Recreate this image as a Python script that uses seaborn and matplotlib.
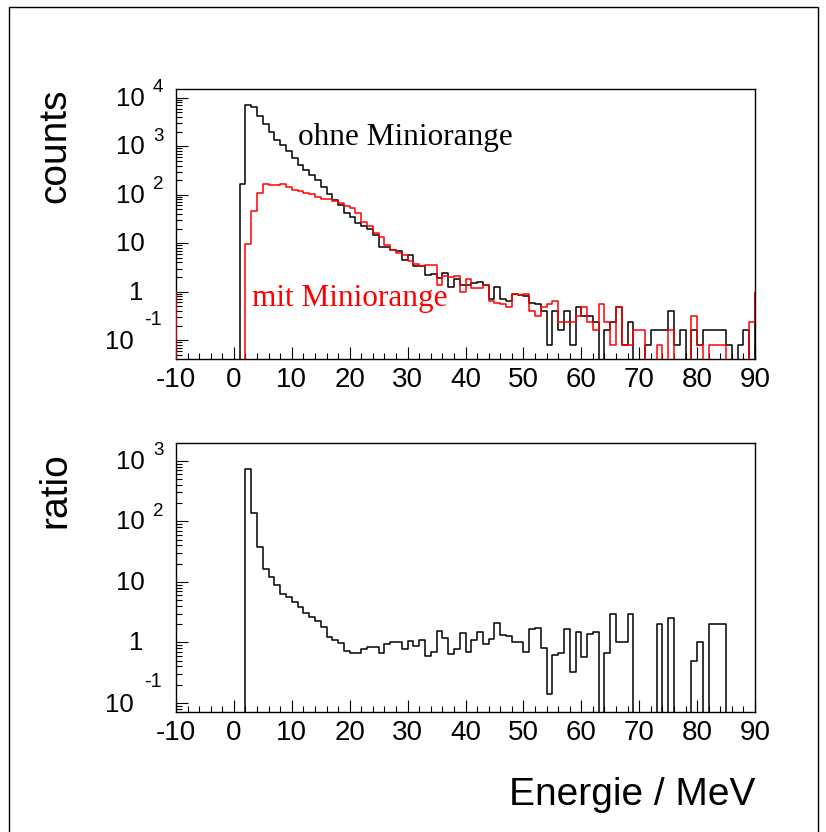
import numpy as np
import pandas as pd
import matplotlib
matplotlib.use("Agg")
import matplotlib.pyplot as plt
import seaborn as sns
from matplotlib.transforms import offset_copy
from matplotlib.ticker import FixedLocator, NullFormatter
from matplotlib.patches import Rectangle

# ---------------- data (1 MeV bins from -10 to 90 MeV) ----------------
bin_edges = list(range(-10, 91))

ohne = [0] * 11 + [
    170, 7200, 6500, 4200, 2940, 1990, 1370, 1050, 800,          # 1..9
    560, 420, 330, 250, 200, 145, 105, 77, 60, 42,               # 10..19
    34, 26, 23, 20, 15, 8.4, 8.4, 7.4, 6.9, 4.5,                 # 20..29
    5.6, 3.4, 3.4, 2.2, 2.3, 1.9, 2.4, 1.26, 1.8, 1.4,           # 30..39
    1.36, 1.52, 1.6, 1.36, 0.70, 1.22, 0.69, 0.64, 0.91, 0.85,   # 40..49
    0.81, 0.57, 0.56, 0.40, 0.08, 0.40, 0.16, 0.40, 0.08, 0.48,  # 50..59
    0.32, 0.32, 0.24, 0, 0.16, 0.24, 0.48, 0.08, 0.24, 0,        # 60..69
    0, 0.08, 0.16, 0.16, 0.16, 0.40, 0.08, 0.16, 0, 0.16,        # 70..79
    0.08, 0.16, 0.16, 0.16, 0.16, 0.08, 0, 0.08, 0.16, 0,        # 80..89
]

mit = [0] * 12 + [
    9.5, 47, 110, 166, 160, 160, 163, 145,                       # 2..9
    128, 120, 106, 102, 90, 83, 83, 75, 68, 58,                  # 10..19
    52, 42, 28, 23, 16, 13.2, 9.1, 7.2, 6.2, 5.6,                # 20..29
    4.2, 3.8, 3.4, 3.6, 3.5, 1.4, 2.1, 2.0, 2.1, 1.0,            # 30..39
    1.8, 1.2, 1.2, 1.4, 0.64, 0.59, 0.55, 0.48, 0.91, 0.85,      # 40..49
    0.9, 0.40, 0.31, 0.48, 0.56, 0.65, 0.24, 0.24, 0.24, 0.32,   # 50..59
    0.48, 0.24, 0.16, 0.56, 0.24, 0.08, 0.48, 0.08, 0.08, 0.16,  # 60..69
    0.16, 0, 0, 0.08, 0, 0.16, 0, 0, 0, 0.32,                    # 70..79
    0.08, 0, 0.08, 0.08, 0.08, 0, 0, 0, 0, 0.24,                 # 80..89
]

ratio = [0] * 12 + [
    745, 138, 37, 16.2, 12.1, 8.8, 6.4, 5.7,                     # 2..9
    4.7, 3.9, 3.1, 2.6, 2.3, 1.77, 1.24, 1.1, 0.96, 0.73,        # 10..19
    0.68, 0.66, 0.77, 0.83, 0.85, 0.66, 0.93, 1.0, 1.0, 0.77,    # 20..29
    1.06, 0.87, 1.1, 0.59, 0.70, 1.54, 1.19, 0.65, 0.79, 1.44,   # 30..39
    0.70, 1.09, 1.50, 0.94, 1.12, 2.11, 1.35, 1.29, 1.0, 1.0,    # 40..49
    0.70, 1.64, 1.75, 0.80, 0.14, 0.62, 0.68, 1.64, 0.33, 1.50,  # 50..59
    0.58, 1.37, 1.46, 0, 0.66, 3.0, 1.0, 1.0, 3.0, 0,            # 60..69
    0, 0, 0, 2.0, 0, 2.5, 0, 0, 0, 0.5,                          # 70..79
    1.0, 0, 2.0, 2.0, 2.0, 0, 0, 0, 0, 0,                        # 80..89
]

x_ticks = [-10, 0, 10, 20, 30, 40, 50, 60, 70, 80, 90]
top_decades = [1e-1, 1, 10, 1e2, 1e3, 1e4]
bottom_decades = [1e-1, 1, 10, 1e2, 1e3]
label_ohne = "ohne Miniorange"
label_mit = "mit Miniorange"

# ---------------- style ----------------
sns.set_theme(style="white")
plt.rcParams['font.family'] = ['Liberation Sans', 'DejaVu Sans']
plt.rcParams['axes.unicode_minus'] = False

W, H = 826, 832
fig = plt.figure(figsize=(W / 100, H / 100), dpi=100)
fig.patch.set_facecolor("white")


def axes_px(l, t, r, b):
    return fig.add_axes([l / W, 1 - b / H, (r - l) / W, (b - t) / H])


ax1 = axes_px(176, 89.3, 755, 359)
ax2 = axes_px(176, 443.3, 755, 712)

edges = np.array(bin_edges, dtype=float)
centers = 0.5 * (edges[:-1] + edges[1:])
df = pd.DataFrame({"E": centers, "ohne": ohne, "mit": mit, "ratio": ratio})

BASE = 1.0  # ROOT draws the outline from this baseline at the histogram ends
LW = 1.1

for ax in (ax1, ax2):
    ax.set_yscale("log")

sns.histplot(data=df, x="E", weights="ohne", bins=list(bin_edges), element="step",
             fill=False, color="black", linewidth=LW, ax=ax1, zorder=3)
sns.histplot(data=df, x="E", weights="mit", bins=list(bin_edges), element="step",
             fill=False, color="#ff0000", linewidth=LW, ax=ax1, zorder=4)
sns.histplot(data=df, x="E", weights="ratio", bins=list(bin_edges), element="step",
             fill=False, color="black", linewidth=LW, ax=ax2, zorder=3)

# end segments of the outlines (from first/last bin content to baseline)
for col, c, z in (("ohne", "black", 3), ("mit", "#ff0000", 4)):
    vals = df[col].to_numpy()
    ax1.vlines([edges[0], edges[-1]], [max(vals[0], 1e-6), max(vals[-1], 1e-6)],
               BASE, colors=c, linewidth=LW, zorder=z)

ax1.set_ylim(10 ** -1.39, 10 ** 4.175)
ax2.set_ylim(10 ** -1.15, 10 ** 3.29)

for ax, decades in ((ax1, top_decades), (ax2, bottom_decades)):
    ax.set_xlim(x_ticks[0], x_ticks[-1])
    ax.set_xlabel("")
    ax.set_ylabel("")
    ax.set_xticks(x_ticks, labels=[str(t) for t in x_ticks])
    ax.xaxis.set_minor_locator(FixedLocator(np.arange(x_ticks[0], x_ticks[-1] + 0.1, 2)))
    ax.yaxis.set_major_locator(FixedLocator(decades))
    minors = [d * k for d in decades + [decades[-1] * 10, decades[0] / 10]
              for k in range(2, 10)]
    ax.yaxis.set_minor_locator(FixedLocator(minors))
    ax.yaxis.set_major_formatter(NullFormatter())
    ax.yaxis.set_minor_formatter(NullFormatter())
    ax.tick_params(which="both", direction="in", top=False, right=False,
                   left=True, bottom=True, color="black", width=0.8)
    ax.tick_params(which="major", length=8.6)
    ax.tick_params(which="minor", length=4.3)
    ax.tick_params(axis="x", which="major", labelsize=20, pad=6.0, labelcolor="black")
    for s in ax.spines.values():
        s.set_visible(True)
        s.set_color("black")
        s.set_linewidth(1.0)
    ax.set_facecolor("white")
    ax.grid(False)

    base_tr = ax.get_yaxis_transform()

    def put(x_dx, y_dy, yv, txt, ha, size, ax=ax, base_tr=base_tr):
        tr = offset_copy(base_tr, fig=fig, x=x_dx, y=y_dy, units="dots")
        ax.text(0, yv, txt, transform=tr, ha=ha, va="center", fontsize=size,
                color="black")

    for v in decades:
        e = int(round(np.log10(v)))
        if e == 0:
            put(-33, -1, v, "1", "right", 18.5)
        elif e == 1:
            put(-31, -1, v, "10", "right", 18.5)
        elif e >= 2:
            put(-31, -1, v, "10", "right", 18.5)
            put(-23, 10, v, str(e), "left", 13.5)
        else:
            put(-42, -2, v, "10", "right", 18.5)
            put(-32, 21, v, str(e), "left", 14.5)

ax1.text(11.0, 1050, label_ohne, family=["Liberation Serif", "DejaVu Serif"],
         fontsize=22.5, ha="left", va="baseline", color="black", zorder=5)
ax1.text(3.07, 0.5, label_mit, family=["Liberation Serif", "DejaVu Serif"],
         fontsize=22.5, ha="left", va="baseline", color="#ff0000", zorder=5)

fig.text(55 / W, 1 - 146 / H, "counts", rotation=90, ha="center", va="center",
         fontsize=28, color="black")
fig.text(55 / W, 1 - 490 / H, "ratio", rotation=90, ha="center", va="center",
         fontsize=28, color="black")
fig.text(755 / W, 27 / H, "Energie / MeV", ha="right", va="baseline",
         fontsize=28, color="black")

fig.add_artist(Rectangle((9 / W, -0.02), (818 - 9) / W, 1 - 7 / H + 0.02,
                         transform=fig.transFigure, fill=False,
                         edgecolor="black", linewidth=1.0))

fig.savefig("out.png", dpi=100, facecolor="white")
